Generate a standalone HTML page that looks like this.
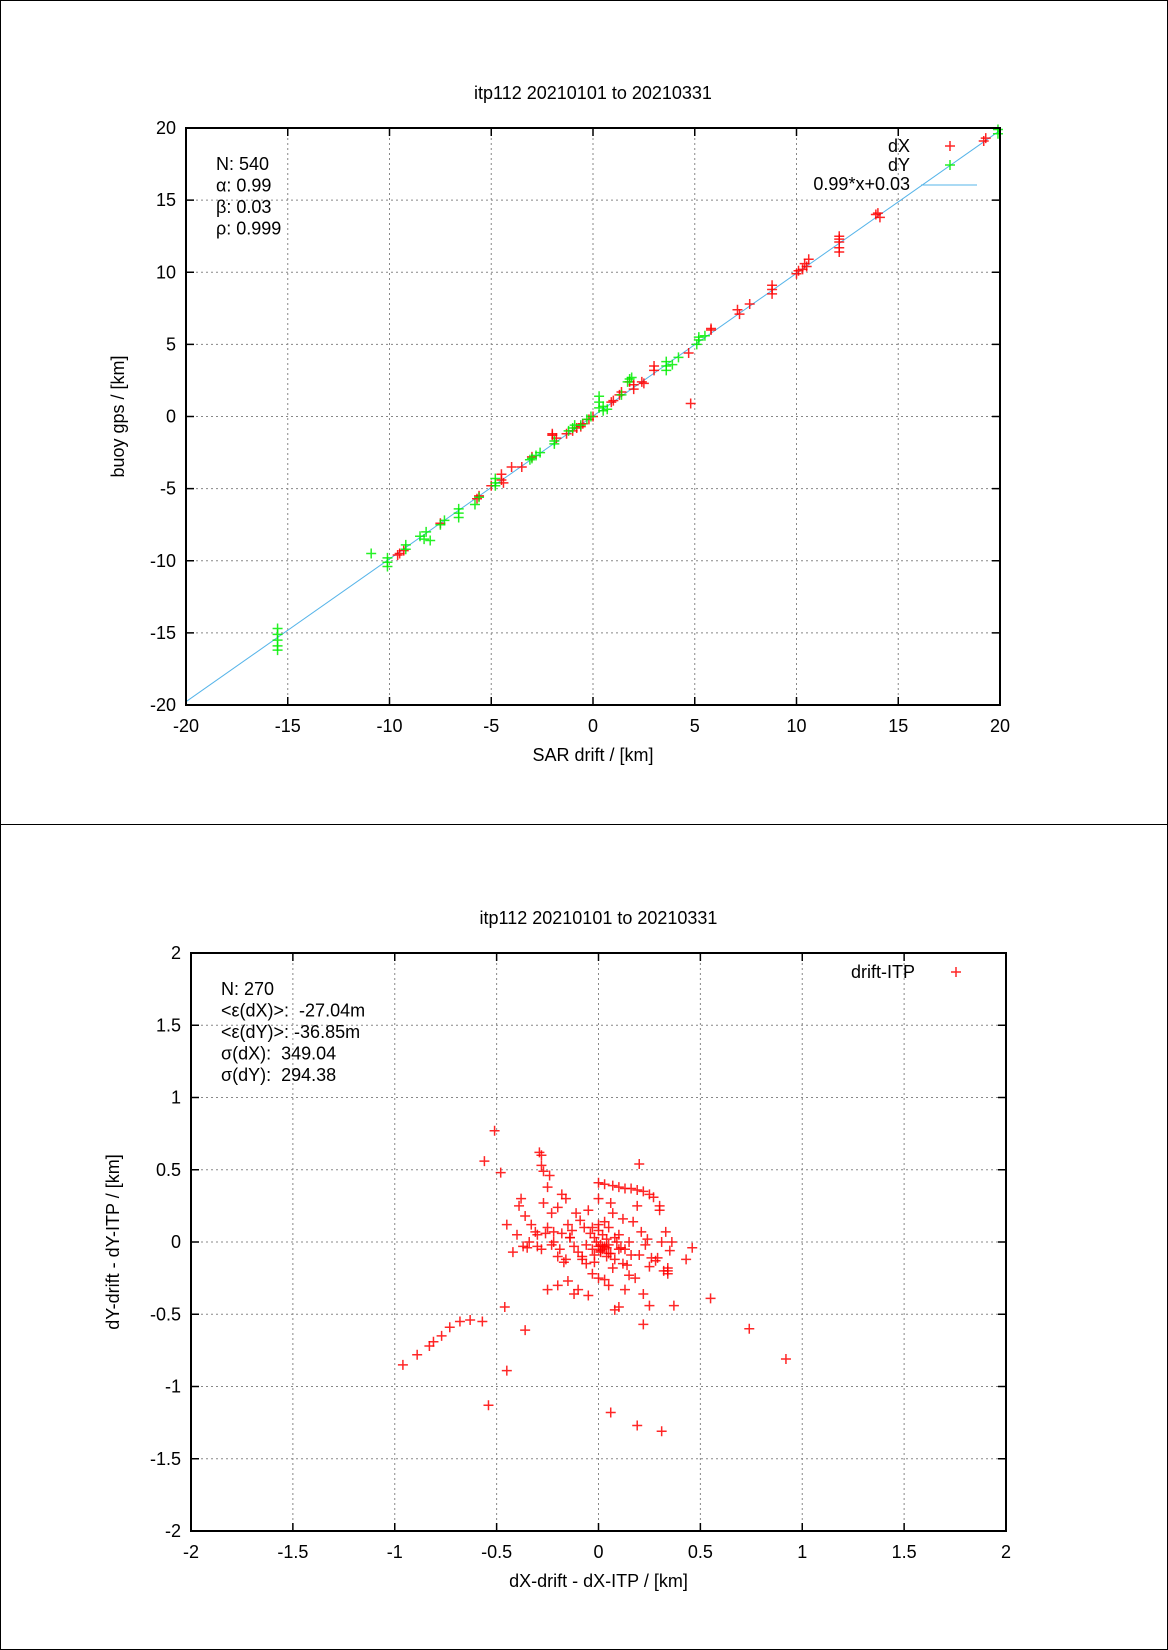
<!DOCTYPE html>
<html><head><meta charset="utf-8"><style>
html,body{margin:0;padding:0;background:#fff}
svg{display:block}
text{font-family:"Liberation Sans",sans-serif;font-size:18px;fill:#000;white-space:pre}
</style></head><body>
<svg id="svg" width="1168" height="1650" xmlns="http://www.w3.org/2000/svg">
<rect x="0.5" y="0.5" width="1167" height="824" fill="none" stroke="#000"/>
<rect x="0.5" y="824.5" width="1167" height="825" fill="none" stroke="#000"/>
<g id="top"></g>
<g id="bot"></g>
</svg>
<script>
const topXTicks=[-20,-15,-10,-5,0,5,10,15,20];
const topYTicks=[-20,-15,-10,-5,0,5,10,15,20];
const botXTicks=[-2,-1.5,-1,-0.5,0,0.5,1,1.5,2];
const botYTicks=[-2,-1.5,-1,-0.5,0,0.5,1,1.5,2];
const fitSlope=0.99, fitIntercept=0.03;
const dXx=[19.3,19.2,13.9,14.1,12.1,12.1,12.1,12.1,10.6,10.4,10.5,10.1,10.0,8.8,8.8,8.8,7.1,7.2,7.7,5.8,5.8,4.7,4.8,3.0,3.0,2.5,2.4,2.0,2.0,1.8,1.4,1.3,1.0,0.9,0.0,-0.2,-0.5,-0.8,-1.0,-1.3,-2.0,-2.0,-1.8,-3.0,-3.5,-4.0,-4.5,-4.5,-5.0,-5.7,-5.6,-9.6,-9.5,-9.3,-7.5,12.1,10.3,14.0,-4.4,-0.6];
const dXy=[19.3,19.1,14.0,13.8,12.5,12.1,11.7,11.4,10.9,10.6,10.4,10.1,9.9,9.1,8.8,8.5,7.4,7.1,7.8,6.1,6.0,4.4,0.9,3.5,3.2,2.3,2.4,1.9,2.2,2.4,1.7,1.5,1.1,1.0,0.0,-0.2,-0.5,-0.8,-1.0,-1.2,-1.2,-1.3,-1.5,-2.8,-3.5,-3.5,-4.0,-4.4,-4.8,-5.7,-5.5,-9.6,-9.5,-9.3,-7.4,12.3,10.2,14.1,-4.6,-0.7];
const dYx=[19.9,19.9,-15.5,-15.5,-15.5,-15.5,-15.5,-10.9,-10.1,-10.1,-10.1,-9.2,-9.2,-8.5,-8.2,-8.3,-8.0,-7.5,-7.3,-6.6,-6.6,-6.6,-5.8,-5.6,-4.8,-4.8,-4.8,-3.1,-3.0,-2.8,-2.6,-1.9,-1.9,-1.2,-1.0,-0.9,-0.6,-0.3,-0.1,0.3,0.3,0.3,0.5,0.5,0.7,1.4,1.7,1.8,1.9,3.6,3.6,3.6,3.9,4.2,5.1,5.2,5.2,5.5];
const dYy=[19.9,19.6,-14.7,-15.1,-15.5,-15.9,-16.2,-9.5,-9.8,-10.1,-10.4,-9.2,-8.9,-8.3,-8.0,-8.5,-8.6,-7.5,-7.2,-6.4,-6.7,-7.0,-6.1,-5.6,-4.3,-4.6,-4.8,-3.0,-2.9,-2.7,-2.5,-1.7,-1.9,-1.0,-0.8,-0.6,-0.6,-0.2,0.0,0.6,1.0,1.4,0.4,0.7,0.5,1.5,2.4,2.6,2.7,3.2,3.5,3.8,3.6,4.1,5.0,5.3,5.5,5.6];
const errX=[-0.51,-0.56,-0.48,-0.29,-0.28,-0.28,-0.27,-0.24,0.2,-0.96,-0.89,-0.83,-0.81,-0.77,-0.73,-0.68,-0.63,-0.57,-0.46,-0.45,-0.36,-0.54,0.06,0.19,0.31,0.55,0.74,0.92,0.22,0.37,0.46,0.43,
0,0.03,0.07,0.1,0.13,0.16,0.19,0.22,0.25,0.27,0.3,0.3,
-0.39,-0.38,-0.36,-0.4,-0.33,-0.31,-0.27,-0.25,-0.23,-0.2,-0.18,-0.16,-0.15,-0.13,-0.11,-0.09,-0.07,-0.05,-0.04,-0.02,-0.01,0,0.01,0.02,0.03,0.04,0.05,0.06,0.07,0.08,0.09,0.1,0.12,0.13,0.15,0.17,0.19,0.21,0.24,0.26,0.28,0.31,0.33,0.34,0.35,0.36,
-0.45,-0.42,-0.37,-0.35,-0.34,-0.3,-0.28,-0.26,-0.23,-0.22,-0.2,-0.19,-0.17,-0.14,-0.12,-0.1,-0.08,-0.06,-0.03,-0.02,0,0.01,0.02,0.04,0.05,0.06,0.08,0.11,0.14,0.16,0.2,0.23,0.25,0.29,0.32,0.34,
-0.2,-0.15,-0.1,-0.05,0.0,0.05,0.1,0.15,-0.25,-0.12,-0.03,0.03,0.08,0.13,0.18,0.22,0.25,0.34,
-0.3,-0.25,-0.22,-0.18,-0.16,-0.14,-0.06,-0.03,0.0,0.02,0.04,0.07,0.1,0.12,-0.08,0.01,0.03,0.05,-0.02,0.0];
const errY=[0.77,0.56,0.48,0.62,0.60,0.53,0.49,0.46,0.54,-0.85,-0.78,-0.72,-0.69,-0.65,-0.59,-0.55,-0.54,-0.55,-0.45,-0.89,-0.61,-1.13,-1.18,-1.27,-1.31,-0.39,-0.6,-0.81,-0.57,-0.44,-0.04,-0.12,
0.41,0.40,0.39,0.38,0.37,0.37,0.36,0.35,0.33,0.31,0.25,0.22,
0.25,0.3,0.18,0.05,0.12,0.07,0.27,0.38,0.2,0.24,0.33,0.3,0.12,0.08,0.2,0.15,0.1,0.22,0.06,0.03,0.0,0.3,-0.02,0.05,0.14,-0.04,0.1,0.27,0.2,0.03,0.0,0.05,0.16,-0.05,0.0,0.14,0.25,0.07,0.02,-0.11,-0.13,0.0,0.07,-0.18,-0.06,0.0,
0.12,-0.07,-0.03,-0.04,0.0,-0.03,-0.05,0.06,-0.02,0.07,-0.1,-0.05,-0.14,0.03,-0.03,-0.07,-0.12,-0.02,-0.05,-0.09,-0.03,-0.07,-0.03,-0.1,-0.02,-0.08,-0.12,-0.04,-0.16,-0.09,-0.09,-0.02,-0.17,-0.11,-0.2,-0.22,
-0.3,-0.27,-0.33,-0.37,-0.25,-0.3,-0.45,-0.23,-0.33,-0.36,-0.22,-0.26,-0.47,-0.33,-0.25,-0.36,-0.44,-0.2,
0.05,0.1,0.0,0.06,-0.12,0.03,-0.15,0.1,0.12,-0.05,0.02,-0.18,-0.05,-0.15,-0.1,-0.06,-0.03,-0.08,-0.14,0.08];

const NS='http://www.w3.org/2000/svg';
function mk(parent,tag,attrs,txt){const e=document.createElementNS(NS,tag);for(const k in attrs)e.setAttribute(k,attrs[k]);if(txt!==undefined)e.textContent=txt;parent.appendChild(e);return e;}

function plot(g,cfg){
  const L=cfg.L,R=cfg.R,T=cfg.T,B=cfg.B;
  const sx=v=>L+(v-cfg.x0)/(cfg.x1-cfg.x0)*(R-L);
  const sy=v=>B-(v-cfg.y0)/(cfg.y1-cfg.y0)*(B-T);
  cfg.xt.forEach((v,i)=>{
    const x=sx(v);
    if(i>0&&i<cfg.xt.length-1){const gl=mk(g,'line',{x1:x,x2:x,y1:T,y2:B,stroke:'#888','stroke-dasharray':'2,3','stroke-width':1});
    }
    const t1=mk(g,'line',{x1:x,x2:x,y1:B,y2:B-8,stroke:'#000','stroke-width':1.5});
    
    const t2=mk(g,'line',{x1:x,x2:x,y1:T,y2:T+8,stroke:'#000','stroke-width':1.5});
    
    const lb=mk(g,'text',{x:x,y:B+27,'text-anchor':'middle'},String(v));
    
  });
  cfg.yt.forEach((v,i)=>{
    const y=sy(v);
    if(i>0&&i<cfg.yt.length-1){const gl=mk(g,'line',{x1:L,x2:R,y1:y,y2:y,stroke:'#888','stroke-dasharray':'2,3','stroke-width':1});
    }
    const t1=mk(g,'line',{x1:L,x2:L+8,y1:y,y2:y,stroke:'#000','stroke-width':1.5});
    
    const t2=mk(g,'line',{x1:R,x2:R-8,y1:y,y2:y,stroke:'#000','stroke-width':1.5});
    
    const lb=mk(g,'text',{x:L-10,y:y+6,'text-anchor':'end'},String(v));
    
  });
  const ttl=mk(g,'text',{x:(L+R)/2,y:T-29,'text-anchor':'middle'},cfg.title);
  
  const xl=mk(g,'text',{x:(L+R)/2,y:B+56,'text-anchor':'middle'},cfg.xlabel);
  
  const yx=cfg.ylx, yy=(T+B)/2;
  const yl=mk(g,'text',{x:yx,y:yy,'text-anchor':'middle',transform:`rotate(-90 ${yx} ${yy})`},cfg.ylabel);
  
  cfg.stats.forEach((s,i)=>{
    const st=mk(g,'text',{x:L+30,y:T+42+i*21.5},s);
    
  });
  return {sx,sy};
}
function plus(g,x,y,col,name){
  const p=mk(g,'path',{d:`M${x-5},${y}h10M${x},${y-5}v10`,stroke:col,'stroke-width':1.5,'stroke-opacity':0.85,fill:'none'});
  
  
}

// top plot
const gt=document.getElementById('top');
const A=plot(gt,{L:186,R:1000,T:128,B:705,x0:-20,x1:20,y0:-20,y1:20,xt:topXTicks,yt:topYTicks,
  title:'itp112 20210101 to 20210331',xlabel:'SAR drift / [km]',ylabel:'buoy gps / [km]',ylx:124,
  stats:['N: 540','α: 0.99','β: 0.03','ρ: 0.999']});
const fl=mk(gt,'line',{x1:A.sx(-20),y1:A.sy(fitSlope*-20+fitIntercept),x2:A.sx(20),y2:A.sy(fitSlope*20+fitIntercept),stroke:'#56b4e9','stroke-width':1});


dXx.forEach((v,i)=>plus(gt,A.sx(v),A.sy(dXy[i]),'#ff0000','dx-point'));
dYx.forEach((v,i)=>plus(gt,A.sx(v),A.sy(dYy[i]),'#00ee00','dy-point'));
// legend
const lg=mk(gt,'g',{});


const l1=mk(lg,'text',{x:910,y:152,'text-anchor':'end'},'dX');

plus(lg,950,146,'#ff0000','legend-marker-dx');
const l2=mk(lg,'text',{x:910,y:171,'text-anchor':'end'},'dY');

plus(lg,950,165,'#00ee00','legend-marker-dy');
const l3=mk(lg,'text',{x:910,y:190,'text-anchor':'end'},'0.99*x+0.03');

const l3l=mk(lg,'line',{x1:921,x2:977,y1:185,y2:185,stroke:'#56b4e9','stroke-width':1});


// bottom plot
const gb=document.getElementById('bot');
const Bp=plot(gb,{L:191,R:1006,T:953,B:1531,x0:-2,x1:2,y0:-2,y1:2,xt:botXTicks,yt:botYTicks,
  title:'itp112 20210101 to 20210331',xlabel:'dX-drift - dX-ITP / [km]',ylabel:'dY-drift - dY-ITP / [km]',ylx:119,
  stats:['N: 270','<ε(dX)>:  -27.04m','<ε(dY)>: -36.85m','σ(dX):  349.04','σ(dY):  294.38']});
errX.forEach((v,i)=>plus(gb,Bp.sx(v),Bp.sy(errY[i]),'#ff0000','drift-itp-point'));
const lb=mk(gb,'text',{x:915,y:978,'text-anchor':'end'},'drift-ITP');

plus(gb,956,972,'#ff0000','legend-marker-drift-itp');

// frames on top
[[186,128,814,577],[191,953,815,578]].forEach(r=>{
  const f=mk(document.getElementById('svg'),'rect',{x:r[0],y:r[1],width:r[2],height:r[3],fill:'none',stroke:'#000','stroke-width':2});
  
  
});
</script>
</body></html>
